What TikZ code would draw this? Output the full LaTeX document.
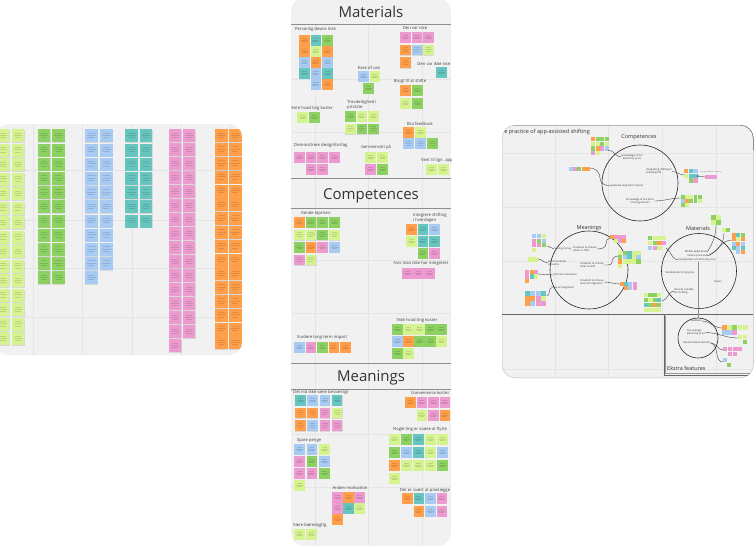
\documentclass[tikz,border=0pt]{standalone}
\usepackage{fontspec}
\setmainfont{Open Sans}
\usetikzlibrary{arrows.meta}
\definecolor{cL}{HTML}{D5F48F}
\definecolor{cG}{HTML}{8ED163}
\definecolor{cB}{HTML}{A7CBF2}
\definecolor{cT}{HTML}{67C5BF}
\definecolor{cP}{HTML}{EC9ACF}
\definecolor{cO}{HTML}{FF9F4A}
\definecolor{panelgrey}{HTML}{F1F1F1}
\definecolor{gridgrey}{HTML}{E5E5E5}
\definecolor{rulegrey}{HTML}{8E8E8E}

% one sticky note with a faint shadow and a few lines of scribbled text
\newcommand{\stickynote}[5]{%
  \fill[black,opacity=0.10] (#1+0.3,#2+0.7) rectangle ++(#3,#4);
  \fill[fill=c#5] (#1,#2) rectangle ++(#3,#4);
  \draw[inkline] (#1+0.24*#3,#2+0.27*#4) -- ++(0.52*#3,0)
                 (#1+0.16*#3,#2+0.45*#4) -- ++(0.68*#3,0)
                 (#1+0.26*#3,#2+0.63*#4) -- ++(0.48*#3,0);
}
% rows of sticky notes: x, y, size, pitch x, pitch y, {{row},{row},...}; N leaves a gap
\newcommand{\notegrid}[6]{%
  \foreach \rw [count=\ri from 0] in {#6} {%
    \foreach \cc [count=\ci from 0] in \rw {%
      \if\cc N\else
        \pgfmathsetmacro\nx{#1+\ci*#4}%
        \pgfmathsetmacro\ny{#2+\ri*#5}%
        \stickynote{\nx}{\ny}{#3}{#3}{\cc}%
      \fi
    }%
  }%
}
% small coloured squares standing for a group of notes
\newcommand{\minigrid}[6]{%
  \foreach \rw [count=\ri from 0] in {#6} {%
    \foreach \cc [count=\ci from 0] in \rw {%
      \if\cc N\else
        \pgfmathsetmacro\nx{#1+\ci*#4}%
        \pgfmathsetmacro\ny{#2+\ri*#5}%
        \fill[fill=c\cc] (\nx,\ny) rectangle ++(#3,#3);
      \fi
    }%
  }%
}
% a long column of sticky notes: x, y, count, pitch, colour
\newcommand{\notecolumn}[5]{%
  \foreach \k in {1,...,#3} {%
    \pgfmathsetmacro\ny{#2+(\k-1)*#4}%
    \stickynote{#1}{\ny}{12.7}{13}{#5}%
  }%
}
\newcommand{\boardtitle}{\fontsize{15}{15}\selectfont}
\newcommand{\grouplabel}{\fontsize{4.2}{4.8}\selectfont}
\newcommand{\tinylabel}{\fontsize{2.6}{3}\selectfont}
\newcommand{\frametitle}{\fontsize{5.5}{6}\selectfont}

\begin{document}
\begin{tikzpicture}[x=1pt,y=-1pt,
  inkline/.style={draw=black,opacity=0.12,line width=0.4pt},
  panel/.style={fill=panelgrey},
  gridline/.style={draw=gridgrey,line width=0.5pt},
  sectionrule/.style={draw=rulegrey,line width=0.8pt},
  lbl/.style={font=\grouplabel,text=black!75,inner sep=0pt},
  tiny/.style={font=\tinylabel,text=black!80,inner sep=0pt,align=left},
  ftitle/.style={font=\frametitle,text=black!80,inner sep=0pt},
  conn/.style={draw=black!80,line width=0.35pt},
  ring/.style={draw=black!85,line width=0.6pt}]

\useasboundingbox (0,0) rectangle (756,547);
\fill[white] (0,0) rectangle (756,547);

% ---------------- left board: sorted notes by colour ----------------
\begin{scope}
  \path[panel,rounded corners=13] (-4,124) rectangle (242,355);
  \clip[rounded corners=13] (-4,124) rectangle (242,355);
  \foreach \gx in {33,82,132,181,230} \draw[gridline] (\gx,124) -- (\gx,355);
  \foreach \gy in {170,220,268,317} \draw[gridline] (-4,\gy) -- (242,\gy);
  \notecolumn{-3.3}{129.3}{15}{14.5}{L}
  \notecolumn{11.7}{129.3}{15}{14.5}{L}
  \notecolumn{37.7}{129.3}{11}{14.2}{G}
  \notecolumn{52.3}{129.3}{11}{14.2}{G}
  \notecolumn{85}{129.3}{11}{14.2}{B}
  \notecolumn{100}{129.3}{10}{14.2}{B}
  \notecolumn{125.3}{129.3}{7}{14.2}{T}
  \notecolumn{139.7}{129.3}{7}{14.2}{T}
  \notecolumn{168.7}{129.3}{16}{14}{P}
  \notecolumn{182.7}{129.3}{15}{14}{P}
  \notecolumn{215}{129.3}{16}{13.8}{O}
  \notecolumn{229}{129.3}{16}{13.8}{O}
\end{scope}

% ---------------- middle board: Materials / Competences / Meanings ----------------
\begin{scope}
  \path[panel,rounded corners=13] (291,-2) rectangle (451,546);
  \clip[rounded corners=13] (291,-2) rectangle (451,546);
  \foreach \gx in {315,368,422} \draw[gridline] (\gx,24) -- (\gx,546);
  \foreach \gy in {79,132,260,313,434,487} \draw[gridline] (291,\gy) -- (451,\gy);
  \draw[sectionrule] (291,24) -- (451,24);
  \draw[sectionrule] (291,178) -- (451,178);
  \draw[sectionrule] (291,208) -- (451,208);
  \draw[sectionrule] (291,363) -- (451,363);
  \draw[sectionrule] (291,389) -- (451,389);

  \node[font=\boardtitle,text=black!80] (titleMat) at (371,12) {Materials};
  \node[font=\boardtitle,text=black!80] (titleComp) at (371,196) {Competences};
  \node[font=\boardtitle,text=black!80] (titleMean) at (371,378) {Meanings};

  % Materials
  \node[lbl,anchor=west] (mPers) at (295,29.5) {Personlig device liste};
  \notegrid{299}{35}{10.5}{11.6}{11}{{O,T,G},{O,L,O},{B,O,B},{T,B,T},{N,B,O}}
  \node[lbl] (mNice) at (415,28) {Den var nice};
  \notegrid{400}{32}{10.5}{11.7}{12.7}{{P,P,P},{O,B,L},{O}}
  \node[lbl] (mNotNice) at (434,64) {Den var ikke nice};
  \notegrid{436}{67}{10.5}{11.7}{12}{{T}}
  \node[lbl] (mEase) at (369,68) {Ease of use};
  \notegrid{358}{71}{10.5}{11.5}{12}{{B,L}}
  \notegrid{363}{83}{10.5}{11.5}{12}{{G}}
  \node[lbl] (mShift) at (410,81) {Brugt til at shifte};
  \notegrid{400}{85}{10.5}{12}{13}{{O,G},{L,G}}
  \node[lbl,anchor=east] (mCost) at (333,108) {Vente hvad ting koster};
  \notegrid{297}{112}{10.5}{12}{12}{{L,G}}
  \node[lbl,anchor=west,align=left] (mTrust) at (347,105) {Troværdighed i\\prisliste};
  \notegrid{345}{111}{10.5}{11.5}{12.5}{{G,L,L},{L,G,G}}
  \node[lbl] (mFeed) at (420,124) {Bra feedback};
  \notegrid{403}{127}{10.5}{12}{11.2}{{O,L,N},{B,B,G}}
  \node[lbl,anchor=west] (mDemo) at (294,145) {Demonstrere designforslag};
  \notegrid{294}{152}{10.5}{11.7}{12}{{P,P,P,P},{N,P,P}}
  \node[lbl] (mAvg) at (376,147) {Gennemsnit på};
  \notegrid{365}{152}{10.5}{12}{12}{{L,L},{P,G}}
  \node[lbl,anchor=east] (mApp) at (453,160) {Vent til lign. app};
  \notegrid{426}{164}{10.5}{12}{12}{{L,L}}

  % Competences
  \node[lbl] (cPrice) at (316,213) {Kende elprisen};
  \notegrid{294}{217}{10.5}{11.7}{12.5}{{O,G,G,G},{L,L,G,L},{G,O,P,B},{P,L}}
  \node[lbl,anchor=west,align=left] (cInteg) at (413,218) {Integrere shifting\\i hverdagen};
  \notegrid{406}{224}{10.5}{11.6}{12}{{O,T,B},{L,T,T},{N,G,P}}
  \node[lbl] (cNotInteg) at (421,263) {hvis man ikke har integreret};
  \notegrid{402}{268}{10.5}{11}{12}{{P,P,P}}
  \node[lbl] (cCost) at (417,320) {Vide hvad ting koster};
  \notegrid{392}{324}{10.5}{11}{12}{{G,L,L,G,G},{B,O,G,G,L},{G,L}}
  \node[lbl] (cLong) at (322,337) {Vurdere long-term impact};
  \notegrid{294}{342}{10.5}{11.5}{12}{{B,P,G,O,O}}

  % Meanings
  \node[lbl,anchor=west] (eHassle) at (293,392) {Det må ikke være besværligt};
  \notegrid{295}{395}{10.5}{12.3}{12.7}{{T,B,B,T},{O,O,P,L},{O,B,P,P}}
  \node[lbl] (eConv) at (430,393) {Convenience koster};
  \notegrid{405}{397}{10.5}{11.5}{13}{{O,P,P,P},{N,L,P,O}}
  \node[lbl] (eHard) at (420,429) {Nogle ting er svære at flytte};
  \notegrid{389}{434}{10.5}{12}{13}{{L,G,T,L,L},{G,B,T,L,B},{O,L,L,L,G},{L}}
  \node[lbl] (eSave) at (309,440) {Spare penge};
  \notegrid{294}{444}{10.5}{12.5}{12}{{B,B,L},{P,G,B},{P,P,G},{L}}
  \node[lbl] (eMotiv) at (350,488) {Anden motivation};
  \notegrid{332}{492}{10.5}{11}{11}{{P,O,P},{P,T,L},{O}}
  \node[lbl] (ePlan) at (425,490) {Det er svært at planlægge};
  \notegrid{402}{493}{10.5}{11.5}{13}{{O,T,B,P},{N,O,B,P}}
  \node[lbl,anchor=west] (eGreen) at (293,525) {Være bæredygtig};
  \notegrid{294}{529}{10.5}{12}{12}{{L,L}}
\end{scope}

% ---------------- right board: the practice of app-assisted shifting ----------------
\begin{scope}
  \path[panel,rounded corners=13] (502,125) rectangle (753.5,378);
  \clip[rounded corners=13] (502,125) rectangle (753.5,378);
  \foreach \gx in {555,608,662,716} \draw[gridline] (\gx,125) -- (\gx,378);
  \foreach \gy in {153,207,261,369} \draw[gridline] (502,\gy) -- (753,\gy);
  \draw[draw=black!25,line width=0.8pt,rounded corners=13] (502,125) rectangle (753.5,378);
  \draw[draw=black!60,line width=0.9pt,rounded corners=13] (502,125) -- (753.5,125) -- (753.5,150);
  \node[ftitle,anchor=east] (practice) at (590,132) {The practice of app-assisted shifting};

  % the three elements as rings
  \draw[ring] (640,183) circle (38);
  \draw[ring] (589,270) circle (39);
  \draw[ring] (699,271) circle (37.5);
  \node[ftitle] (ringComp) at (639,137) {Competences};
  \node[ftitle] (ringMean) at (589,228.5) {Meanings};
  \node[ftitle] (ringMat) at (698,228.5) {Materials};

  % lower band with extra features
  \draw[draw=black!60,line width=0.9pt] (502,314.5) -- (753,314.5);
  \draw[draw=black!60,line width=0.9pt] (664,314.5) -- (664,375) -- (753,375);
  \draw[draw=black!40,line width=0.5pt] (665.5,316) -- (665.5,373.5) -- (753,373.5);
  \node[ftitle,anchor=west] (extra) at (667,368) {Ekstra features};
  \draw[ring] (698,338) circle (20);

  % competences
  \minigrid{591}{137}{4.2}{4.5}{4.7}{{O,G,G,G},{L,L,G,L},{G,O,P,B},{P,L}}
  \coordinate (kA) at (608,150);
  \node[tiny,align=center] (kElec) at (632,157) {Knowledge of the\\electricity price};
  \draw[conn] (kA) to[out=0,in=180] (kElec.west);
  \minigrid{569}{167}{4}{4.2}{4}{{B,P,G,O,O}}
  \coordinate (kB) at (590,168);
  \node[tiny] (kLong) at (627,186) {Evaluate long-term impact};
  \draw[conn] (kB) to[out=0,in=90] (600,178) to[out=-90,in=180] (kLong.west);
  \node[tiny] (kInteg) at (659,171.5) {Integrating shifting in\\everyday life};
  \minigrid{684}{169}{4.3}{4.7}{4.7}{{O,T,B},{L,T,T},{N,G,P}}
  \coordinate (kC) at (684,175);
  \draw[conn] (kInteg.east) to[out=0,in=180] (kC);
  \minigrid{705}{175}{4}{4}{4}{{P,P,P}}
  \node[tiny,font=\fontsize{1.6}{2}\selectfont,text=black!60] (kNot) at (711,172.5) {Hvis man ikke har integreret};
  \coordinate (kD) at (705,177);
  \coordinate (kDin) at (697,176);
  \draw[conn,-{Stealth[length=1.5pt,width=1.5pt]}] (kD) -- (kDin);
  \node[tiny,align=center] (kDev) at (640,201) {Knowledge of the price\\of using devices};
  \minigrid{681}{195}{3.8}{4.2}{4.2}{{G,L,L,G,G},{B,O,G,G,L},{G,L}}
  \coordinate (kE) at (681,198);
  \draw[conn] (kDev.east) to[out=0,in=180] (kE);

  % meanings
  \minigrid{532}{234}{4.4}{4.8}{4.5}{{B,B,L},{P,G,B},{P,P,G},{L}}
  \node[tiny] (nSave) at (563,249) {Saving money};
  \draw[conn] (547,246) to[out=0,in=180] (nSave.west);
  \minigrid{528}{257}{4.5}{5}{5}{{L,L}}
  \node[tiny,anchor=west] (nEnv) at (548,263) {Environmental\\concerns};
  \draw[conn] (538,259) to[out=0,in=180] (nEnv.west);
  \minigrid{525}{270}{4.2}{4.5}{4.3}{{P,O,P},{P,T,L},{O}}
  \node[tiny] (nMot) at (565,275) {Intrinsic motivation};
  \draw[conn] (538,274) -- (nMot.west);
  \minigrid{525}{291}{4.9}{5.3}{4.9}{{T,B,B,T},{O,O,P,L},{O,B,P,P}}
  \node[tiny] (nEase) at (563,288) {Ease of integration};
  \draw[conn] (547,296) to[out=0,in=180] (nEase.west);
  \minigrid{610}{235}{3.8}{4}{4}{{O,P,P,P},{N,L,P,O}}
  \node[tiny] (nWhen) at (585,249) {Freedom to choose\\when to shift};
  \draw[conn] (nWhen.east) to[out=0,in=-90] (606,244) to[out=90,in=180] (610,238);
  \minigrid{618}{251}{4.3}{4.6}{4.2}{{L,G,T,L,L},{G,B,T,L,B},{O,L,L,L,G},{L}}
  \node[tiny] (nWhat) at (592,265) {Freedom to choose\\what to shift};
  \draw[conn] (nWhat.east) to[out=0,in=-90] (612,262) to[out=90,in=180] (618,256);
  \minigrid{620}{282}{3.9}{4.2}{4.2}{{O,T,B,P},{N,O,B,P}}
  \node[tiny] (nLevel) at (592,282) {Freedom to choose\\level of integration};
  \draw[conn] (nLevel.east) to[out=0,in=180] (620,284);

  % materials
  \minigrid{711}{215}{4.6}{5}{5}{{G,L},{L,G}}
  \minigrid{722}{228}{3.8}{4.2}{4}{{L,G}}
  \minigrid{732}{233}{4}{4.4}{4.3}{{O,T,G},{O,L,O},{B,O,B},{T,B,T},{N,B,O}}
  \minigrid{648}{236}{4.3}{4.6}{4.8}{{G,L,L,L},{L,G,O,P},{B,P,L}}
  \minigrid{644}{293}{4.2}{4.4}{5}{{L,G,G,L},{G,L,G,T},{T,G,O,G},{L,L,L,L}}
  \node[tiny] (tMobile) at (696,252) {Mobile application};
  \node[tiny] (tData) at (698,255.5) {Device price data};
  \node[tiny] (tVis) at (697,260) {Visualisation of electricity price};
  \node[tiny] (tVar) at (680,273) {Variable electricity price};
  \node[tiny] (tSav) at (718,282) {Savers};
  \node[tiny] (tDev) at (684,291) {Devices suitable\\for shifting};
  \draw[conn] (716,225) to[out=-90,in=60] (tMobile.east);
  \draw[conn] (724,233) to[out=-90,in=30] (tData.east);
  \draw[conn] (732,240) to[out=180,in=20] (tData.east);
  \draw[conn] (666,248) to[out=-30,in=180] (tVis.west);
  \draw[conn] (662,301) to[out=10,in=180] (tDev.west);
  \draw[draw=black!45,line width=0.35pt] (698,262) -- (698,318);

  % extra features
  \node[tiny] (xFeed) at (696,321) {Feedback};
  \node[tiny] (xAvg) at (696,332.5) {The average\\electricity price};
  \node[tiny] (xGen) at (697,343) {General improvements};
  \minigrid{722}{325}{4.6}{5.2}{5}{{O,L,G,L},{B,B,P}}
  \fill[cL] (742.8,325) rectangle ++(5,4.6);
  \minigrid{738}{335}{4.4}{4.8}{5}{{L,L},{N,G}}
  \minigrid{723}{347}{4.4}{4.8}{4.8}{{P,P,P,P},{N,P,P}}
  \minigrid{723}{358}{4}{4.4}{4.6}{{B,N},{N,G}}
  \draw[conn] (xFeed.east) to[out=0,in=180] (722,328);
  \draw[conn] (xAvg.east) to[out=0,in=180] (738,338);
  \draw[conn] (xGen.east) to[out=0,in=180] (723,350);
  \draw[conn] (xGen.east) to[out=-20,in=180] (723,362);
\end{scope}
\end{tikzpicture}
\end{document}
